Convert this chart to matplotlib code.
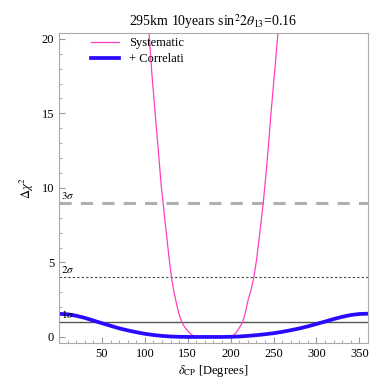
import matplotlib
matplotlib.use("Agg")
import matplotlib.pyplot as plt
import numpy as np

plt.rcParams['font.family'] = ['Liberation Serif', 'DejaVu Serif']
plt.rcParams['mathtext.fontset'] = 'stix'

# Systematic (pink)
sys_x = [100, 105, 108, 112, 116, 119, 122, 125, 128, 131, 134, 137, 140, 143, 146, 150,
         153, 156, 160, 164, 170, 180, 190, 198, 202, 206, 210, 214, 217, 220, 224, 227,
         230, 233, 236, 238, 241, 244, 247, 251, 255, 260]
sys_y = [24.5, 20.3, 17.8, 15.0, 12.3, 10.2, 8.6, 7.0, 5.4, 4.0, 3.0, 2.2, 1.5, 1.0, 0.7, 0.4,
         0.22, 0.1, 0.03, 0.0, 0.0, 0.0, 0.0, 0.0, 0.06, 0.25, 0.6, 1.0, 1.6, 2.4, 3.2, 4.0,
         5.1, 6.5, 8.0, 9.0, 10.8, 12.8, 15.0, 17.6, 20.3, 24.5]

# + Correlated (blue)
cor_x = list(range(0, 361, 10))
cor_y = [1.55, 1.52, 1.42, 1.28, 1.10, 0.92, 0.75, 0.58, 0.44, 0.32, 0.21, 0.13, 0.07, 0.03,
         0.01, 0.0, 0.0, 0.0, 0.0, 0.0, 0.01, 0.03, 0.07, 0.12, 0.18, 0.25, 0.34, 0.45, 0.57,
         0.71, 0.87, 1.03, 1.20, 1.35, 1.47, 1.54, 1.56]

sigma_levels = [1, 4, 9]
sigma_labels = [r'$1\sigma$', r'$2\sigma$', r'$3\sigma$']

fig = plt.figure(figsize=(3.91, 3.91), dpi=100)
ax = fig.add_axes([0.151, 0.123, 0.790, 0.793])

ax.axhline(sigma_levels[0], color='#555555', lw=1.0)
ax.axhline(sigma_levels[1], color='#444444', lw=0.8, ls=(0, (2, 2)))
ax.axhline(sigma_levels[2], color='#b0b0b0', lw=2.2, ls=(0, (4, 3)))
for lvl, lab in zip(sigma_levels, sigma_labels):
    ax.text(2, lvl + 0.15, lab, fontsize=8, ha='left', va='bottom')

ax.plot(sys_x, sys_y, color='#ff3fc0', lw=0.9, label='Systematic')
ax.plot(cor_x, cor_y, color='#2a0aff', lw=2.7, label='+ Correlati')

ax.set_xlim(0, 360)
ax.set_ylim(-0.4, 20.4)
ax.set_xticks([50, 100, 150, 200, 250, 300, 350])
ax.set_xticks(np.arange(0, 361, 10), minor=True)
ax.set_yticks([0, 5, 10, 15, 20])
ax.set_yticks(np.arange(0, 21, 1), minor=True)
ax.tick_params(which='both', direction='in', colors='#999999', labelcolor='black', labelsize=9)
ax.tick_params(which='major', length=4)
ax.tick_params(which='minor', length=2)
for s in ax.spines.values():
    s.set_color('#aaaaaa')

ax.set_title(r'295km 10years sin$^2 2\theta_{13}$=0.16', fontsize=10, pad=5)
ax.set_xlabel(r'$\delta_{\rm CP}$ [Degrees]', fontsize=9, labelpad=2)
ax.set_ylabel(r'$\Delta\chi^2$', fontsize=9, labelpad=4)

ax.legend(loc='upper left', bbox_to_anchor=(0.08, 1.01), frameon=False, fontsize=9,
          handlelength=2.2, borderaxespad=0.2, labelspacing=0.3)

fig.savefig('out.png', dpi=100)
